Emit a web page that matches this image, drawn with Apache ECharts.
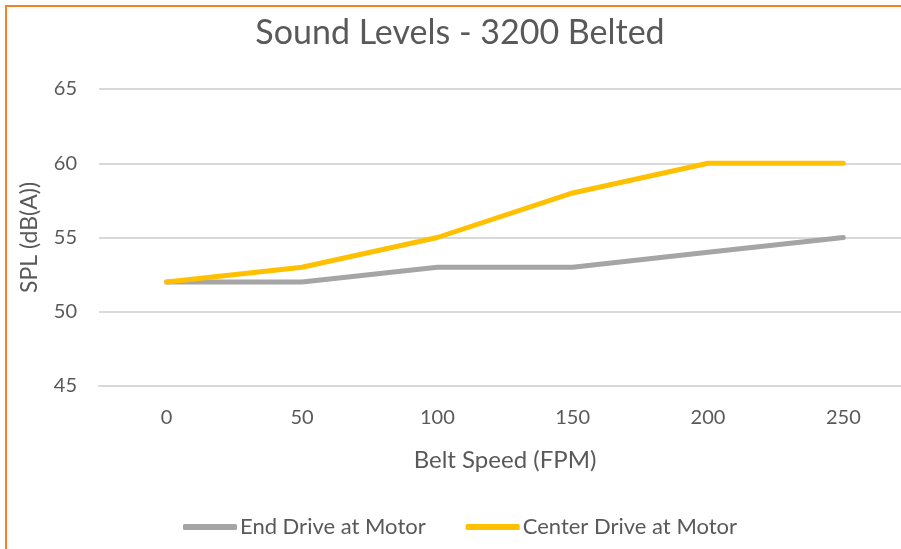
<!DOCTYPE html>
<html>
<head>
<meta charset="utf-8">
<script src="https://cdn.jsdelivr.net/npm/echarts@6/dist/echarts.min.js"></script>
<style>
  html, body { margin: 0; padding: 0; background: #fff; }
  #chart { width: 901px; height: 549px; }
</style>
</head>
<body>
<div id="chart"></div>
<script>
// Belt speed categories (FPM)
const speeds = ['0', '50', '100', '150', '200', '250'];
// Sound pressure level, dB(A)
const endDrive = [52, 52, 53, 53, 54, 55];
const centerDrive = [52, 53, 55, 58, 60, 60];
const seriesNames = ['End Drive at Motor', 'Center Drive at Motor'];

const FONT = 'Lato, "Open Sans", sans-serif';
const TEXT = '#595959';

const chart = echarts.init(document.getElementById('chart'), null, { renderer: 'canvas' });
chart.setOption({
  animation: false,
  backgroundColor: '#ffffff',
  graphic: [{
    type: 'rect',
    shape: { x: 6, y: 6, width: 1200, height: 1200 },
    style: { fill: 'none', stroke: '#F58226', lineWidth: 2 },
    z: 100
  }],
  title: {
    text: 'Sound Levels - 3200 Belted',
    left: 455, top: 11, textAlign: 'center',
    textStyle: { fontFamily: FONT, fontSize: 34, fontWeight: 'normal', color: TEXT }
  },
  legend: {
    data: seriesNames,
    bottom: 6, left: 178,
    itemWidth: 54, itemHeight: 6, itemGap: 40,
    icon: 'roundRect',
    textStyle: { fontFamily: FONT, fontSize: 22, color: TEXT, padding: [0, 0, 0, -2] }
  },
  // the plot area runs past the right edge of the canvas
  grid: { left: 99, top: 89, width: 812, height: 297, outerBoundsMode: 'none', containLabel: false },
  xAxis: {
    type: 'category',
    data: speeds,
    boundaryGap: true,
    name: 'Belt Speed (FPM)',
    nameLocation: 'middle',
    nameGap: 62,
    nameTextStyle: { fontFamily: FONT, fontSize: 24, color: TEXT },
    axisLine: { lineStyle: { color: '#D9D9D9', width: 2 } },
    axisTick: { show: false },
    axisLabel: { fontFamily: FONT, fontSize: 20, color: TEXT, margin: 22 }
  },
  yAxis: {
    type: 'value',
    min: 45, max: 65, interval: 5,
    name: 'SPL (dB(A))',
    nameLocation: 'middle',
    nameGap: 58,
    nameRotate: 90,
    nameTextStyle: { fontFamily: FONT, fontSize: 23, color: TEXT },
    axisLine: { show: false },
    axisTick: { show: false },
    axisLabel: { fontFamily: FONT, fontSize: 20, color: TEXT, margin: 22 },
    splitLine: { lineStyle: { color: '#D9D9D9', width: 2 } }
  },
  series: [
    {
      name: seriesNames[0], type: 'line', data: endDrive,
      color: '#A5A5A5', symbol: 'none',
      lineStyle: { width: 5, color: '#A5A5A5', cap: 'round', join: 'round' }
    },
    {
      name: seriesNames[1], type: 'line', data: centerDrive,
      color: '#FFC000', symbol: 'none',
      lineStyle: { width: 5, color: '#FFC000', cap: 'round', join: 'round' }
    }
  ]
});
</script>
</body>
</html>
